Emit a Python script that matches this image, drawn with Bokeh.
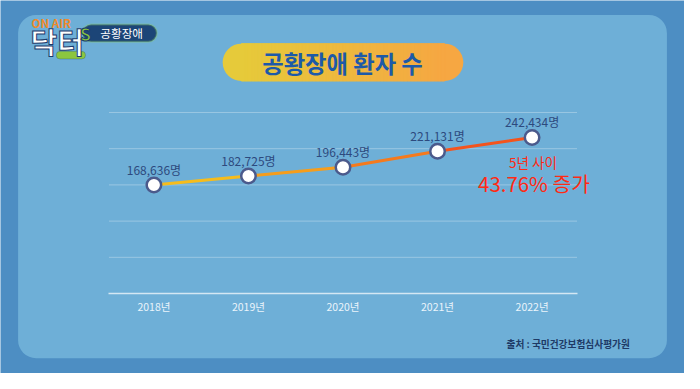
from bokeh.plotting import figure
from bokeh.models import Range1d, BoxAnnotation, LinearAxis, FixedTicker
from bokeh.core.properties import value
from bokeh.embed import file_html
from bokeh.resources import INLINE

# ---- data ----
years = ["2018년", "2019년", "2020년", "2021년", "2022년"]
patients = [168636, 182725, 196443, 221131, 242434]
grid_values = [56300, 112600, 168900, 225200, 281500]
title_text = "공황장애 환자 수"
badge_text = "공황장애"
note_line1 = "5년 사이"
note_line2 = "43.76% 증가"
source_text = "출처 : 국민건강보험심사평가원"

FONT = "Noto Sans CJK KR"
W, H = 684, 373
S = 0.97  # size scale (figure vs reference)

# reference-pixel -> data helpers
def X(px):
    return (px - 157) / 96.75

def Y(py):
    return (305.6 - py) * 1490.9

p = figure(width=W, height=H, output_backend="svg", toolbar_location=None,
           x_range=Range1d(X(0), X(700)), y_range=Range1d(Y(389), Y(0)),
           min_border=0, x_axis_type=None, y_axis_type=None)
p.outline_line_color = None
p.background_fill_color = "#4d8ec3"
p.border_fill_color = "#4d8ec3"
p.grid.visible = False

# inner panel
p.add_layout(BoxAnnotation(left=X(18), right=X(682), top=Y(15), bottom=Y(373),
                           border_radius=18, fill_color="#6eafd7", fill_alpha=1,
                           line_color=None, level="image"))

# title pill with gradient
c0 = (0xE6, 0xCA, 0x3A)
c1 = (0xF6, 0xA7, 0x42)
def mix(t):
    return "#%02x%02x%02x" % tuple(int(round(a + (b - a) * t)) for a, b in zip(c0, c1))
lx, rx, top, bot = 246.5, 454.5, 45, 84
N = 60
xs0, xs1, cols = [], [], []
for i in range(N):
    a = lx + (rx - lx) * i / N
    b = lx + (rx - lx) * (i + 1) / N
    xs0.append(X(a)); xs1.append(X(b)); cols.append(mix((i + 0.5) / N))
cap = (bot - top) * H / 389
p.scatter([X(lx)], [Y((top + bot) / 2)], size=cap, marker="circle",
          fill_color=mix(0), line_color=None)
p.scatter([X(rx)], [Y((top + bot) / 2)], size=cap, marker="circle",
          fill_color=mix(1), line_color=None)
p.quad(left=xs0, right=xs1, top=[Y(top)] * N, bottom=[Y(bot)] * N,
       fill_color=cols, line_color=cols, line_width=1)

def txt(px, py, s, size, color, bold=False, align="center", outline=None):
    p.text(x=[X(px)], y=[Y(py)], text=[s], text_font=value(FONT),
           text_font_size=f"{size * S:.1f}px", text_color=color, text_align=align,
           text_baseline="middle", text_font_style="bold" if bold else "normal",
           text_outline_color=outline)

txt(350, 65, title_text, 24, "#1d5aa8", bold=True)

# logo
p.add_layout(BoxAnnotation(left=X(84), right=X(160), top=Y(25), bottom=Y(43),
                           border_radius=9, fill_color="#1c4577", fill_alpha=1,
                           line_color="#8fd14f", line_width=2, level="image"))
txt(124, 34, badge_text, 12, "white")
p.add_layout(BoxAnnotation(left=X(57), right=X(87), top=Y(53), bottom=Y(61),
                           border_radius=4, fill_color="#8cc63f", fill_alpha=1,
                           line_color="#1c4577", line_width=1, level="image"))
txt(52, 23, "ON AIR", 12, "#f08a2a", bold=True)
txt(58, 42, "닥터", 30, "white", bold=True, outline="#1b3a6b")
txt(87, 34, "S", 18, "#86c440", bold=True, outline="#1b3a6b")

# gridlines
p.segment(x0=[X(111)] * len(grid_values), x1=[X(590)] * len(grid_values),
          y0=grid_values, y1=grid_values, line_color="white", line_alpha=0.3,
          line_width=1)

# x axis
xaxis = LinearAxis(fixed_location=0, ticker=FixedTicker(ticks=list(range(len(years)))),
                   major_label_overrides={i: y for i, y in enumerate(years)},
                   bounds=(X(111), X(590)))
xaxis.axis_line_color = "white"
xaxis.axis_line_alpha = 0.7
xaxis.axis_line_width = 1.5
xaxis.major_tick_out = 0
xaxis.major_tick_in = 0
xaxis.minor_tick_out = 0
xaxis.minor_tick_in = 0
xaxis.major_label_standoff = 5
xaxis.major_label_text_font = FONT
xaxis.major_label_text_font_size = "10.5px"
xaxis.major_label_text_color = "#eaf4fb"
p.add_layout(xaxis, "below")

# line with gradient-like segments
idx = list(range(len(patients)))
seg_colors = ["#f6bc1c", "#f69d1c", "#f57a1d", "#f4541d"]
p.segment(x0=idx[:-1], y0=patients[:-1], x1=idx[1:], y1=patients[1:],
          line_color=seg_colors, line_width=3, line_cap="round")
p.scatter(idx, patients, size=14.5, marker="circle", fill_color="white",
          line_color="#4b5a8c", line_width=2.5)
p.text(x=idx, y=patients, text=[f"{v:,}명" for v in patients],
       text_font=value(FONT), text_font_size="12px", text_color="#2d4a7e",
       text_align="center", text_baseline="middle", y_offset=-16)

# annotation
txt(545, 168, note_line1, 14, "#ff2a14")
txt(546, 190, note_line2, 21, "#ff2a14")

# source
txt(581, 358, source_text, 10, "#1e3a66", bold=True)

open("out.html", "w").write(file_html(p, INLINE))
